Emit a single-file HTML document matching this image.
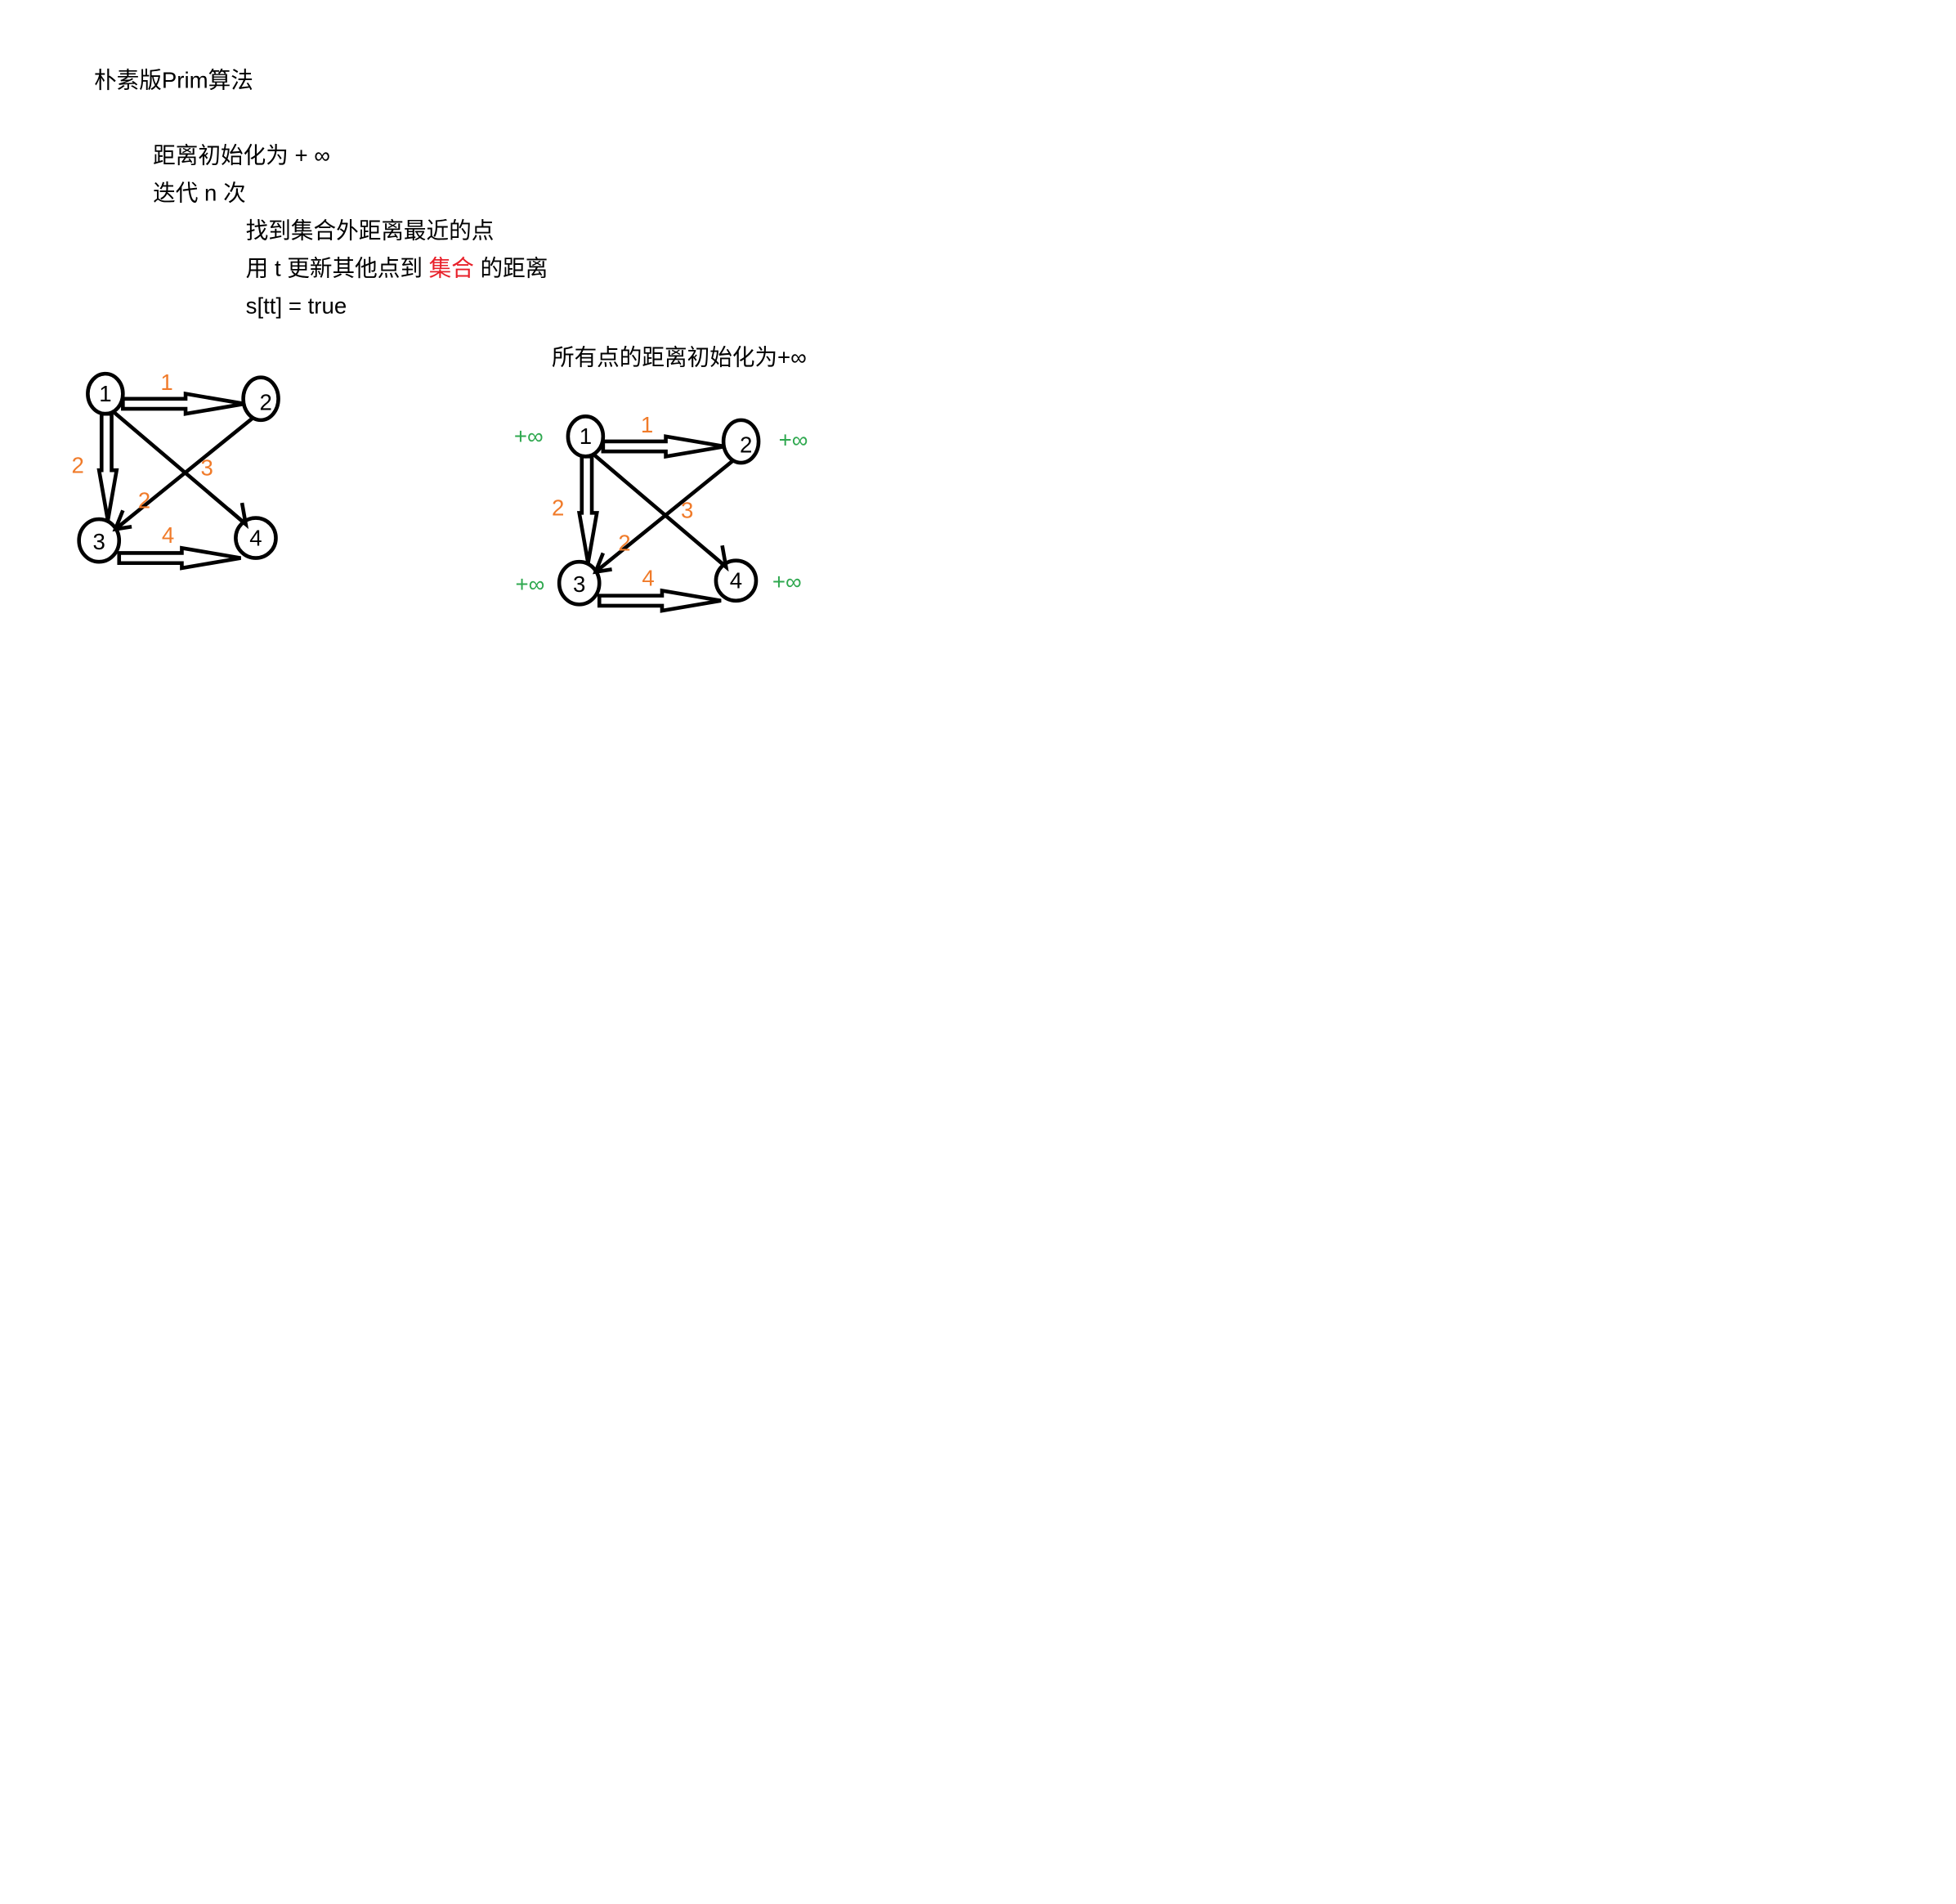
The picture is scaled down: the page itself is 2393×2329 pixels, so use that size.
<!DOCTYPE html>
<html><head><meta charset="utf-8"><style>
html,body{margin:0;padding:0;background:#fff;}
svg{display:block;}
text{font-family:"Liberation Sans","Noto Sans CJK SC",sans-serif;}
</style></head><body>
<svg width="2393" height="2329" viewBox="0 0 1560 1518.3" xmlns="http://www.w3.org/2000/svg">
<rect width="1560" height="1518.3" fill="#fff"/>
<g font-size="18" fill="#000">
<text x="75" y="70">朴素版Prim算法</text>
<text x="122" y="130">距离初始化为 + ∞</text>
<text x="122" y="160">迭代 n 次</text>
<text x="196" y="190">找到集合外距离最近的点</text>
<text x="196" y="220">用 t 更新其他点到 <tspan fill="#e8202a">集合</tspan> 的距离</text>
<text x="196" y="250">s[tt] = true</text>
<text x="440" y="291">所有点的距离初始化为+∞</text>
</g>
<defs>
<g id="g">
<g fill="#fff" stroke="#000" stroke-width="3" stroke-linejoin="miter">
<polygon points="98,318 148,318 148,314 195,322 148,330 148,326 98,326"/>
<polygon points="95,441 145,441 145,437 192,445 145,453 145,449 95,449"/>
<polygon points="81,330 89,330 89,375 93,375 86,415 79,375 81,375"/>
</g>
<g stroke="#000" stroke-width="3" fill="none">
<line x1="90" y1="328" x2="196" y2="418"/>
<polyline points="182,406 196,418 193,401"/>
<line x1="202" y1="333" x2="92" y2="422"/>
<polyline points="98,407 92,422 105,420"/>
<ellipse cx="84" cy="314" rx="14" ry="16"/>
<ellipse cx="208" cy="318" rx="14" ry="17"/>
<ellipse cx="79" cy="431" rx="16" ry="17"/>
<ellipse cx="204" cy="429" rx="16" ry="16"/>
</g>
<g font-size="18" fill="#000">
<text x="79" y="320">1</text>
<text x="207" y="327">2</text>
<text x="74" y="438">3</text>
<text x="199" y="435">4</text>
</g>
<g font-size="18" fill="#f07b2a">
<text x="128" y="311">1</text>
<text x="57" y="377">2</text>
<text x="160" y="379">3</text>
<text x="110" y="405">2</text>
<text x="129" y="433">4</text>
</g>
</g>
</defs>
<use href="#g"/>
<use href="#g" transform="translate(383,34)"/>
<g font-size="18" fill="#2fa84f">
<text x="410" y="354">+∞</text>
<text x="621" y="357">+∞</text>
<text x="411" y="472">+∞</text>
<text x="616" y="470">+∞</text>
</g>
</svg>
</body></html>
